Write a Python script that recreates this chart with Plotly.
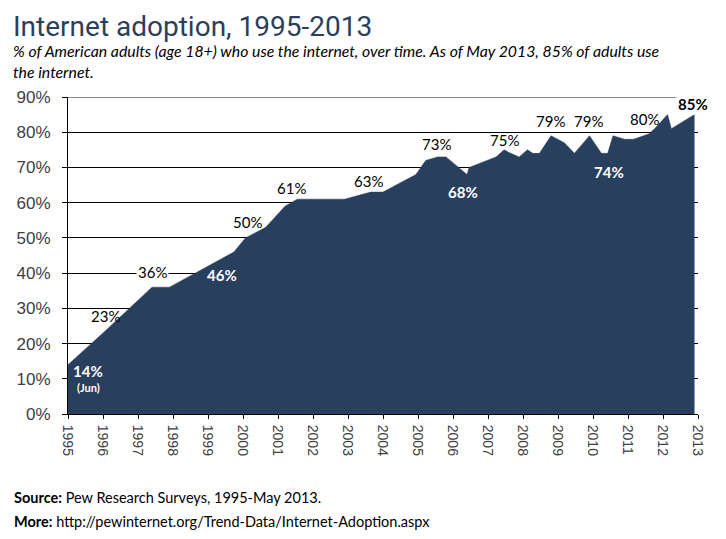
import plotly.graph_objects as go

# Datos (año fraccional, % adultos que usan internet)
years = [1995.0, 1996.0, 1997.4, 1997.9, 1999.74, 2000.07, 2000.65, 2001.2, 2001.55,
         2002.9, 2003.65, 2004.0, 2004.94, 2005.22, 2005.56, 2005.8, 2006.4, 2006.46,
         2007.23, 2007.46, 2007.65, 2007.89, 2008.13, 2008.28, 2008.47, 2008.8,
         2009.18, 2009.47, 2009.9, 2010.24, 2010.42, 2010.57, 2010.9, 2011.16,
         2011.59, 2011.76, 2012.13, 2012.24, 2012.9]
adoption = [14, 23, 36, 36, 46, 50, 53, 59, 61,
            61, 63, 63, 68, 72, 73, 73, 68, 70,
            73, 75, 74, 73, 75, 74, 74, 79,
            77, 74, 79, 74, 74, 79, 78, 78,
            79.5, 81, 85, 81, 85]

tick_years = list(range(1995, 2014))

# Etiquetas de valores: índice del punto y texto
label_idx = [0, 1, 2, 4, 5, 8, 10, 14, 16, 19, 25, 28, 30, 34, 38]
label_text = ["14%", "23%", "36%", "46%", "50%", "61%", "63%", "73%", "68%",
              "75%", "79%", "79%", "74%", "80%", "85%"]

NAVY = "#283f5e"

# estilo de cada etiqueta: (xshift, yshift, blanco/negrita)
label_style = {
    "14%": (20, -6, "white"), "23%": (2, 17, "black"), "36%": (0, 15, "black"),
    "46%": (-12, -23, "white"), "50%": (2, 16, "black"), "61%": (-6, 11, "black"),
    "63%": (-2, 11, "black"), "73%": (-1, 13, "black"), "68%": (-4, -18, "white"),
    "75%": (0, 10, "black"), "79%": (-1, 15, "black"), "74%": (1, -19, "white"),
    "80%": (-4, 15, "black"), "85%": (-2, 11, "bold"),
}

fig = go.Figure()

fig.add_trace(go.Scatter(
    x=years,
    y=adoption,
    fill="tozeroy",
    fillcolor=NAVY,
    mode="lines",
    line=dict(color=NAVY, width=0.5),
    showlegend=False,
    hoverinfo="skip",
))

for i, txt in zip(label_idx, label_text):
    dx, dy, kind = label_style[txt]
    if kind == "white":
        t = f"<b>{txt}</b>"
        col = "white"
    elif kind == "bold":
        t = f"<b>{txt}</b>"
        col = "black"
    else:
        t = txt
        col = "black"
    fig.add_annotation(
        x=years[i], y=adoption[i], text=t, showarrow=False,
        xshift=dx, yshift=dy,
        font=dict(family="Lato, sans-serif", size=15, color=col),
        bgcolor="white" if txt in ("36%", "85%") else None,
        borderpad=1,
    )

# (Jun) debajo del 14%
fig.add_annotation(
    x=years[0], y=adoption[0], text="<b>(Jun)</b>", showarrow=False,
    xshift=20, yshift=-23,
    font=dict(family="Lato, sans-serif", size=11, color="white"),
)

# Línea superior gris al 90%
fig.add_shape(type="line", xref="paper", yref="y", x0=0, x1=1, y0=90, y1=90,
              line=dict(color="#8c8c8c", width=2), layer="below")

# Título, subtítulo y fuente
fig.add_annotation(
    xref="paper", yref="paper", x=-0.0889, y=1.278, xanchor="left", yanchor="top",
    text="Internet adoption, 1995-2013", showarrow=False, borderpad=0,
    font=dict(family="Roboto, sans-serif", size=28, color="#2b3f5c"),
)
fig.add_annotation(
    xref="paper", yref="paper", x=-0.0889, y=1.115, xanchor="left", yanchor="middle",
    align="left", showarrow=False, borderpad=0,
    text="<i>% of American adults (age 18+) who use the internet, over time. As of May 2013, 85% of adults use<br>the internet.</i>",
    font=dict(family="Lato, sans-serif", size=15.8, color="black"),
)
fig.add_annotation(
    xref="paper", yref="paper", x=-0.0889, y=-0.262, xanchor="left", yanchor="middle",
    align="left", showarrow=False,
    text="<b>Source:</b> Pew Research Surveys, 1995-May 2013.",
    font=dict(family="Lato, sans-serif", size=14.5, color="black"),
)
fig.add_annotation(
    xref="paper", yref="paper", x=-0.0889, y=-0.338, xanchor="left", yanchor="middle",
    align="left", showarrow=False,
    text="<b>More:</b> http://pewinternet.org/Trend-Data/Internet-Adoption.aspx",
    font=dict(family="Lato, sans-serif", size=14.5, color="black"),
)

# la página tiene 8px de margen en el body: se compensa aquí
fig.update_layout(
    width=710,
    height=523,
    template="none",
    plot_bgcolor="white",
    paper_bgcolor="white",
    margin=dict(l=60, r=20, t=89, b=117),
    showlegend=False,
)

fig.update_xaxes(
    range=[1995, 2013],
    tickmode="array",
    tickvals=tick_years,
    ticktext=[str(y) for y in tick_years],
    tickangle=90,
    ticks="outside",
    ticklen=4,
    tickcolor="black",
    ticklabelstandoff=3,
    showgrid=False,
    zeroline=False,
    showline=True,
    linecolor="black",
    linewidth=1,
    tickfont=dict(family="Liberation Sans, Arial, sans-serif", size=14, color="#404040"),
)

fig.update_yaxes(
    range=[0, 90],
    dtick=10,
    ticksuffix="%",
    ticks="outside",
    ticklen=5,
    tickcolor="black",
    ticklabelstandoff=8,
    showgrid=True,
    gridcolor="black",
    gridwidth=1,
    zeroline=False,
    showline=True,
    linecolor="black",
    linewidth=1,
    tickfont=dict(family="Liberation Sans, Arial, sans-serif", size=17, color="#404040"),
)

fig.write_html("out.html")
